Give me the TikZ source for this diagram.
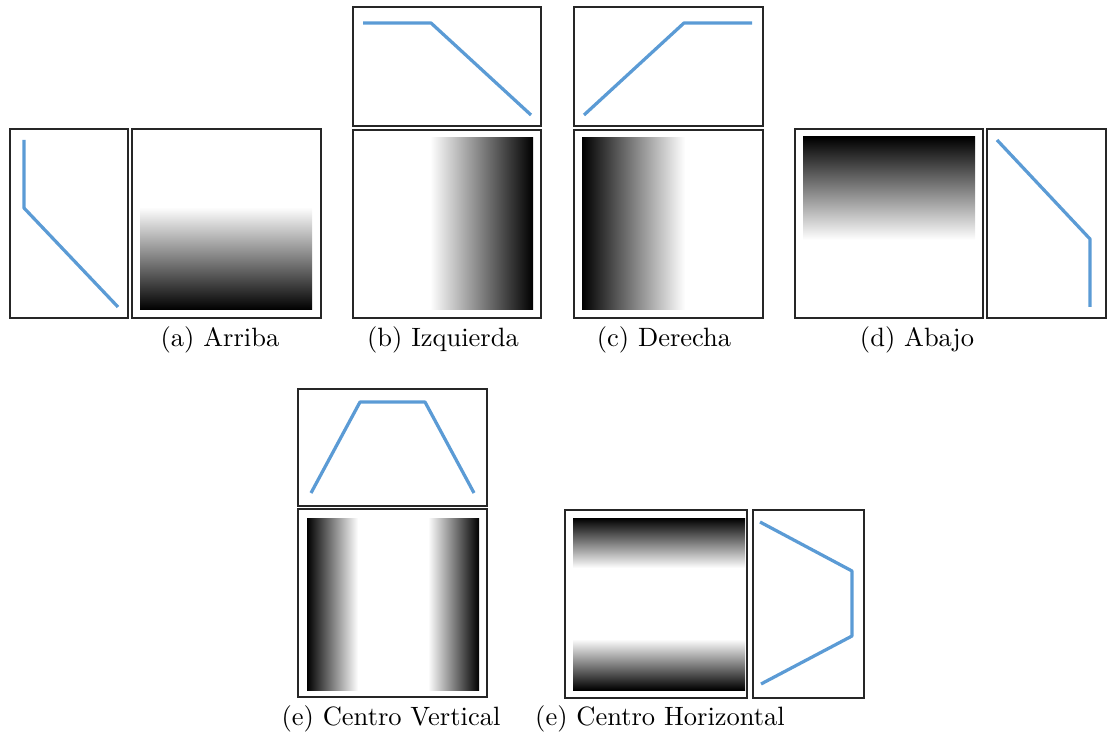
\documentclass[tikz,border=0pt]{standalone}
\usepackage{xcolor}
\usepackage{tikz}
\definecolor{curveblue}{RGB}{91,155,213}

\begin{document}
\begin{tikzpicture}[
  x=0.385pt, y=-0.385pt,
  frame/.style={draw=black!85, line width=0.5pt},
  curve/.style={curveblue, line width=1.25pt, line join=round},
  caption/.style={anchor=base, inner sep=0pt, font=\fontsize{10.2}{12}\selectfont}
]
\useasboundingbox (0,0) rectangle (1109,738);

% (a) Arriba
\draw[frame] (10,129) rectangle (128,318);
\draw[frame] (132,129) rectangle (321,318);
\shade[top color=white, bottom color=black] (140,207) rectangle (312,310);
\draw[curve] (24,140) -- (24,208) -- (118,307);
\node[caption] (capa) at (220,347) {(a) Arriba};

% (b) Izquierda
\draw[frame] (353,7) rectangle (541,126);
\draw[frame] (353,130) rectangle (541,318);
\shade[left color=white, right color=black] (430,138) rectangle (533,310);
\draw[curve] (363,23) -- (431,23) -- (531,115);
\node[caption] (capb) at (443,347) {(b) Izquierda};

% (c) Derecha
\draw[frame] (574,7) rectangle (763,126);
\draw[frame] (574,130) rectangle (763,318);
\shade[left color=black, right color=white] (582,138) rectangle (685,310);
\draw[curve] (584,115) -- (684,23) -- (752,23);
\node[caption] (capc) at (664,347) {(c) Derecha};

% (d) Abajo
\draw[frame] (795,129) rectangle (983,318);
\draw[frame] (987,129) rectangle (1106,318);
\shade[top color=black, bottom color=white] (803,137) rectangle (975,240);
\draw[curve] (997,140) -- (1090,239) -- (1090,307);
\node[caption] (capd) at (917,347) {(d) Abajo};

% (e) Centro Vertical
\draw[frame] (298,389) rectangle (487,506);
\draw[frame] (298,509) rectangle (487,697);
\shade[left color=black, right color=white] (307,518) rectangle (358,690);
\shade[left color=white, right color=black] (428,518) rectangle (479,690);
\draw[curve] (311,493) -- (360,402) -- (425,402) -- (474,493);
\node[caption] (capev) at (391,725) {(e) Centro Vertical};

% (e) Centro Horizontal
\draw[frame] (565,510) rectangle (747,698);
\draw[frame] (753,510) rectangle (864,698);
\shade[top color=black, bottom color=white] (573,518) rectangle (745,568);
\shade[top color=white, bottom color=black] (573,639) rectangle (745,690);
\draw[curve] (760,522) -- (852,571) -- (852,636) -- (761,684);
\node[caption] (capeh) at (660,725) {(e) Centro Horizontal};
\end{tikzpicture}
\end{document}
